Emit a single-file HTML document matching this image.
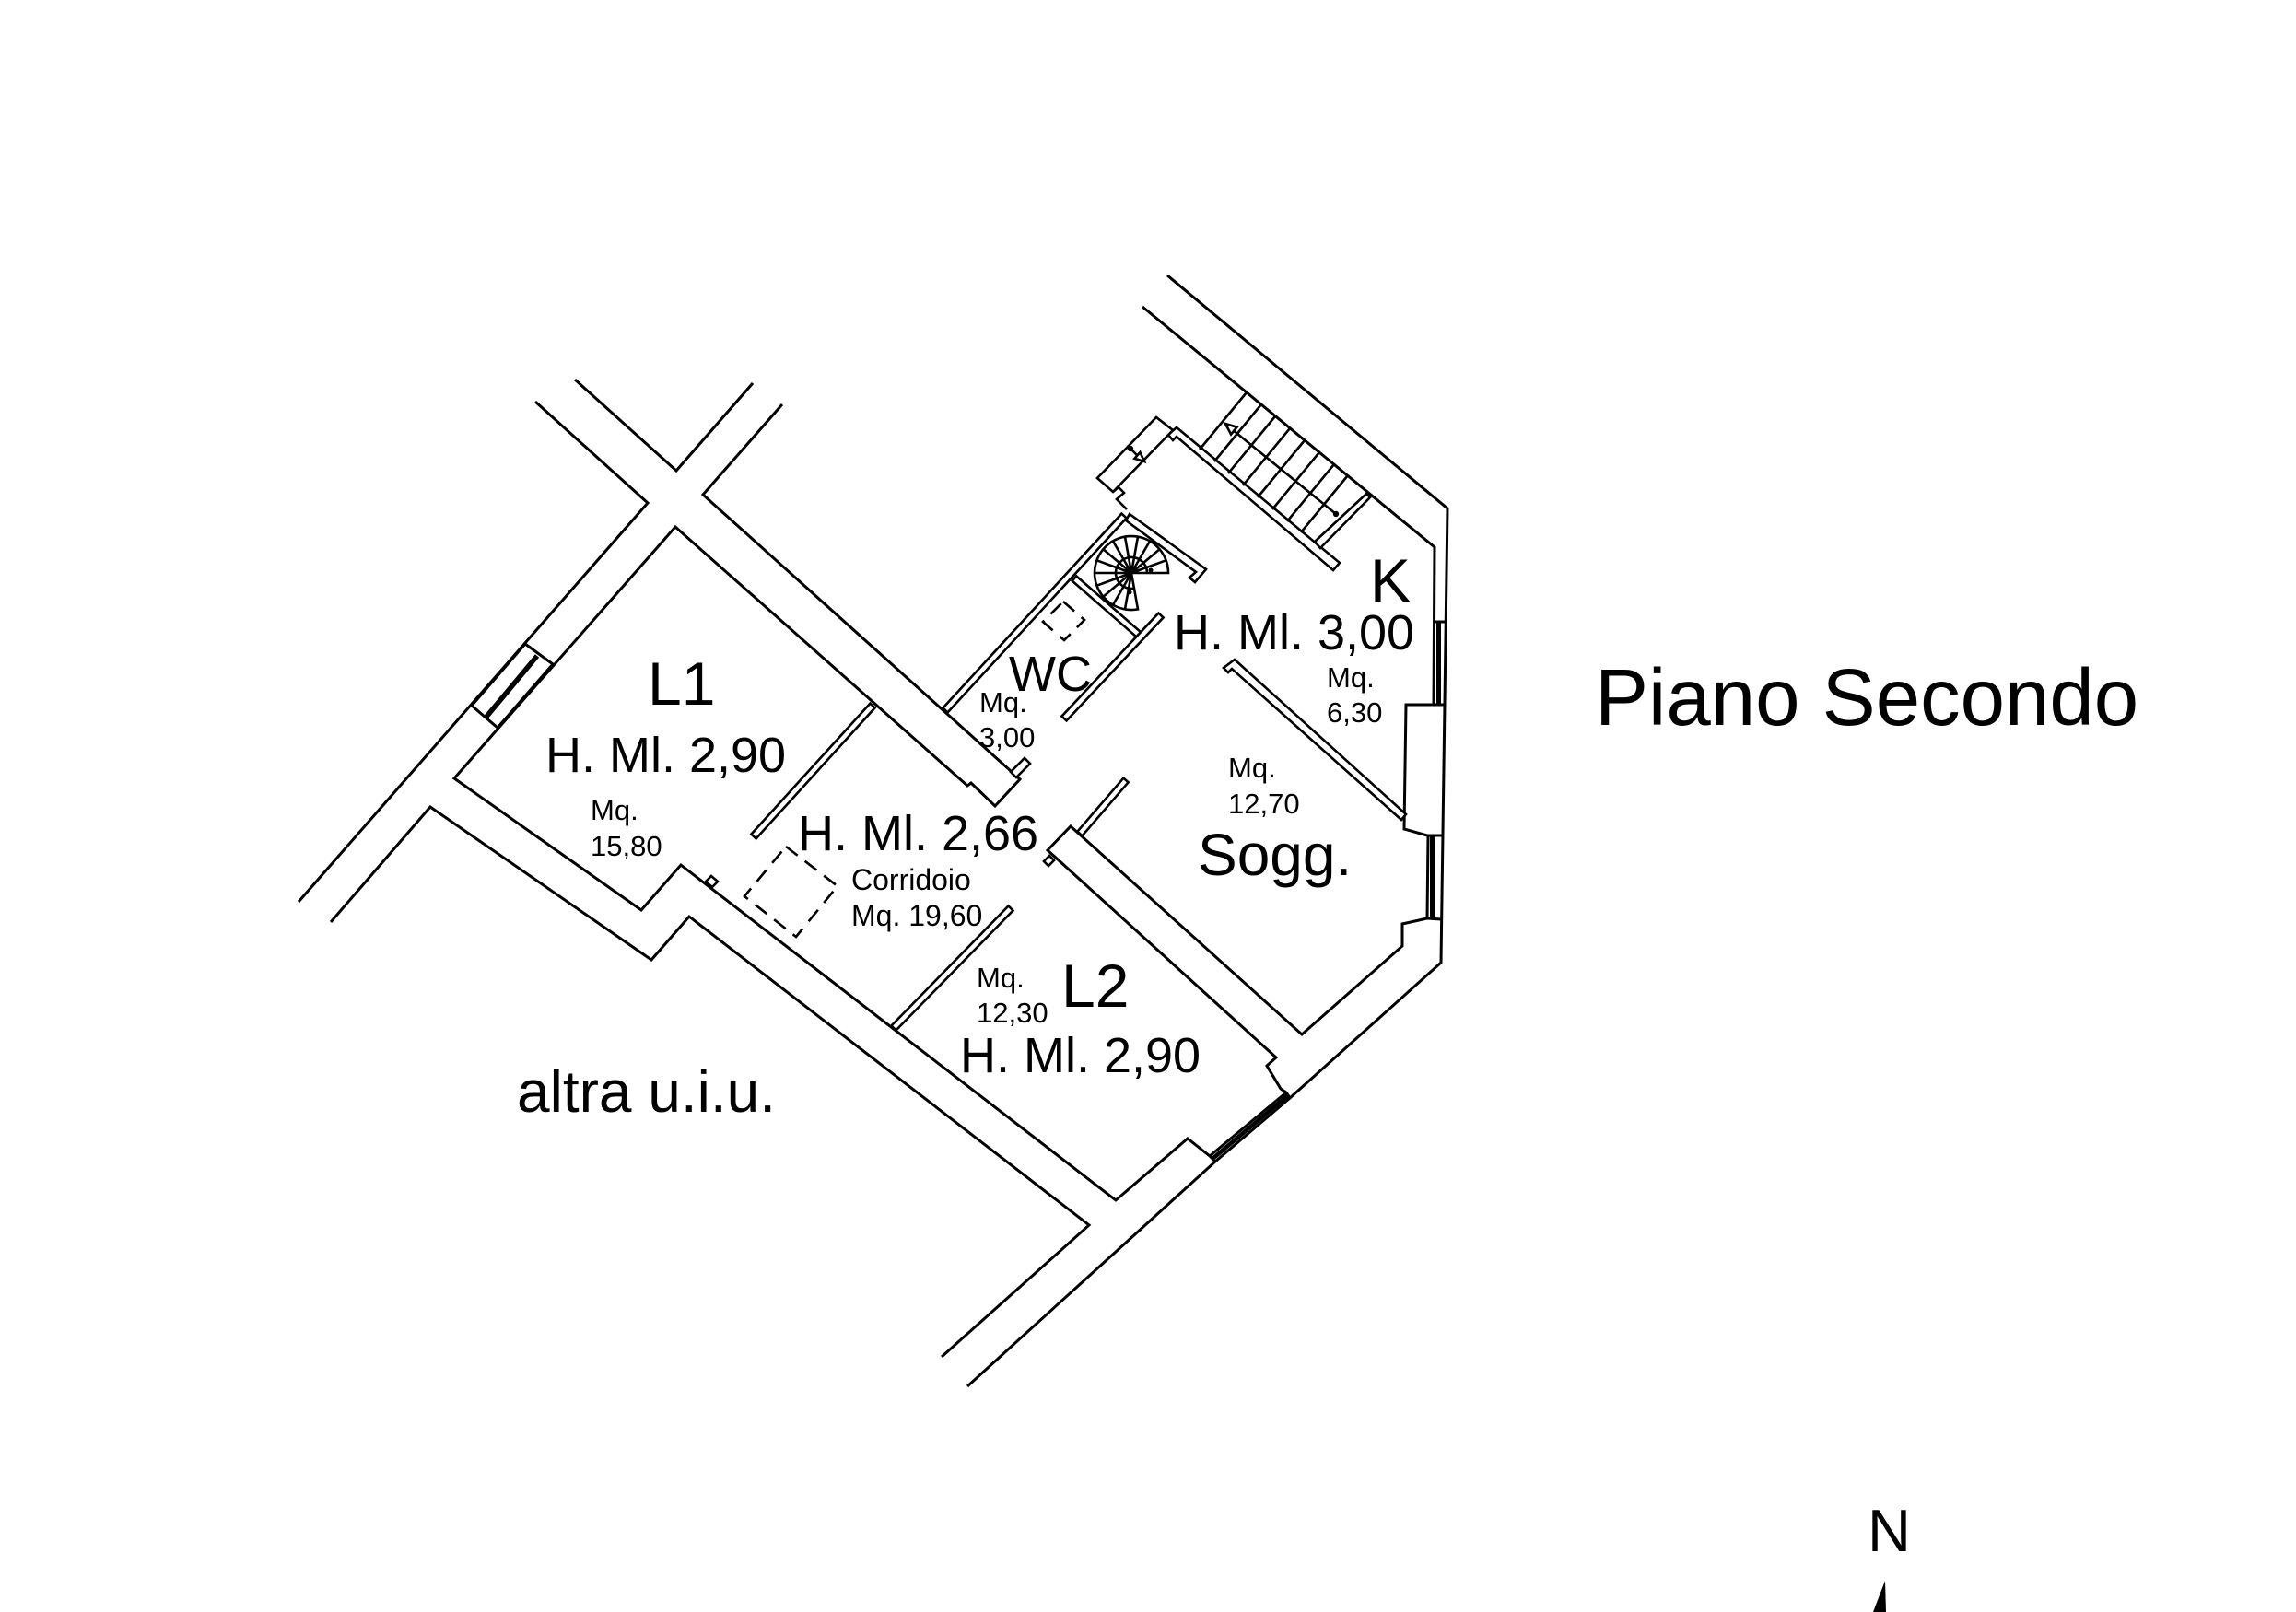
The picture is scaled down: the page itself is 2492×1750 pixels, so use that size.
<!DOCTYPE html>
<html>
<head>
<meta charset="utf-8">
<style>
  html, body { margin: 0; padding: 0; background: #ffffff; }
  svg { display: block; }
  text { font-family: "Liberation Sans", Arial, sans-serif; fill: #000; }
</style>
</head>
<body>
<svg width="2492" height="1750" viewBox="0 0 2492 1750" xmlns="http://www.w3.org/2000/svg">
  <rect x="0" y="0" width="2492" height="1750" fill="#ffffff"/>

  <g fill="none" stroke="#000" stroke-width="3" stroke-linejoin="miter" stroke-linecap="butt">
    <!-- outer left wall line -->
    <polyline points="581,436 703,546 324,979"/>
    <!-- top X -->
    <polyline points="624,412 734,511 817,416"/>
    <!-- big wall line around L1 / corridor -->
    <polyline points="849,439 763,537 1107,846 1080,875 1054,850 1050,853 733,572 493,845 696,988 739,939 1211,1303 1289,1236 1313,1255"/>
    <!-- outer lower left -->
    <polyline points="359,1001 467,876 707,1042 748,995 1182,1330 1022,1473"/>
    <!-- outer right boundary -->
    <polyline points="1050,1505 1319,1261 1400,1192 1564,1045 1571,552 1267,299"/>
    <!-- inner right top -->
    <polyline points="1240,333 1557,594 1556,765"/>
    <line x1="1557" y1="675" x2="1570" y2="675"/>
    <!-- pillar -->
    <polyline points="1568,765 1526,765 1524,900 1549,907 1566,907"/>
    <!-- lower window inner line -->
    <line x1="1550" y1="907" x2="1549" y2="998"/>
    <!-- Sogg / L2 wall and lower-right -->
    <polyline points="1564,998 1549,997 1522,1003 1522,1027 1413,1123 1162,897 1137,923 1385,1148 1375,1157 1390,1182 1396,1186 1313,1255"/>
    <!-- window end lines -->
    <line x1="1396" y1="1186" x2="1400" y2="1192"/>
    <line x1="1313" y1="1255" x2="1319" y2="1261"/>

    <!-- left window -->
    <polygon points="570,699 600,721 540,790 512,766"/>
  </g>

  <!-- window thick bands -->
  <line x1="583" y1="712" x2="528" y2="778" stroke="#000" stroke-width="5.5"/>
  <rect x="1559" y="675" width="5" height="90" fill="#000"/>
  <rect x="1552" y="907" width="5" height="91" fill="#000"/>
  <line x1="1316" y1="1258" x2="1398" y2="1189" stroke="#000" stroke-width="4.5"/>

  <!-- thin walls -->
  <g fill="#fff" stroke="#000" stroke-width="2.6" stroke-linejoin="miter">
    <!-- L1 / corridor partition -->
    <polygon points="944.4,763.6 815.4,905.6 820.6,910.4 949.6,768.4"/>
    <!-- L2 partition -->
    <polygon points="972.5,1118.5 1099.5,988.5 1094.5,983.5 967.5,1113.5"/>
    <!-- corridor / Sogg partition -->
    <polygon points="1174.6,907.3 1224.6,849.3 1219.4,844.7 1169.4,902.7"/>
    <!-- K / Sogg partition with hook -->
    <polygon points="1340,716 1526,884 1521,890 1337,726 1333,730 1328,725"/>
    <!-- WC outer wall -->
    <polygon points="1028.6,773.4 1222.6,562.4 1217.4,557.6 1023.4,768.6"/>
    <!-- spiral compartment top wall with hook -->
    <polygon points="1226,558 1309,618 1297,632 1291,627 1298,621 1222,565"/>
    <!-- WC / spiral separator -->
    <polygon points="1163.7,630.6 1233.7,691.6 1238.3,686.4 1168.3,625.4"/>
    <!-- WC right wall -->
    <polygon points="1157.6,782.4 1262.6,670.4 1257.4,665.6 1152.4,777.6"/>
    <!-- wall below stair -->
    <polygon points="1268,472 1277,464 1454,611 1447,619 1277,474 1273,478"/>
    <!-- stair end stub -->
    <polygon points="1427,588 1483,536 1487,540 1433,595"/>
    <!-- door block -->
    <polygon points="1191,519 1255,453 1273,467 1208,534"/>
    <!-- jambs -->
    <polygon points="1133,935 1139,929 1144,934 1138,940"/>
    <polygon points="1097,838 1112,823 1118,829 1103,844"/>
    <polygon points="766,957 772,951 779,957 773,963"/>
  </g>

  <!-- zigzag near door -->
  <polyline points="1208,534 1214,529 1220,535 1212,542 1223,553" fill="none" stroke="#000" stroke-width="2.6"/>

  <!-- stair treads -->
  <g stroke="#000" stroke-width="2.6" fill="none">
    <line x1="1302" y1="488" x2="1353" y2="426"/>
    <line x1="1318" y1="501" x2="1369" y2="439"/>
    <line x1="1333" y1="514" x2="1384" y2="452"/>
    <line x1="1349" y1="527" x2="1400" y2="465"/>
    <line x1="1365" y1="540" x2="1416" y2="478"/>
    <line x1="1381" y1="553" x2="1432" y2="491"/>
    <line x1="1397" y1="566" x2="1448" y2="504"/>
    <line x1="1412" y1="578" x2="1463" y2="516"/>
    <!-- stair arrow -->
    <line x1="1339" y1="467.6" x2="1450" y2="558"/>
    <polygon points="1330,460 1336.1,471.5 1342.5,463.7" fill="#fff"/>
    <!-- door arrow -->
    <line x1="1227" y1="487" x2="1234.4" y2="494.4"/>
    <polygon points="1242,501 1231.4,497.8 1237.4,491" fill="#fff"/>
  </g>
  <circle cx="1450" cy="558" r="3.2" fill="#000"/>
  <circle cx="1227" cy="487" r="3.2" fill="#000"/>

  <!-- spiral stair -->
  <g stroke="#000" stroke-width="2.6" fill="none">
    <path d="M1268,622 A40,40 0 1 0 1235,661.4 L1228,622 Z"/>
    <path d="M1245,622 A17,17 0 1 0 1231,638.7"/>
    <line x1="1228" y1="622" x2="1265.6" y2="608.3"/>
    <line x1="1228" y1="622" x2="1258.6" y2="596.3"/>
    <line x1="1228" y1="622" x2="1248" y2="587.4"/>
    <line x1="1228" y1="622" x2="1235" y2="582.6"/>
    <line x1="1228" y1="622" x2="1221" y2="582.6"/>
    <line x1="1228" y1="622" x2="1208" y2="587.4"/>
    <line x1="1228" y1="622" x2="1197.4" y2="596.3"/>
    <line x1="1228" y1="622" x2="1190.4" y2="608.3"/>
    <line x1="1228" y1="622" x2="1188" y2="622"/>
    <line x1="1228" y1="622" x2="1190.4" y2="635.7"/>
    <line x1="1228" y1="622" x2="1197.4" y2="647.7"/>
    <line x1="1228" y1="622" x2="1208" y2="656.6"/>
    <line x1="1228" y1="622" x2="1221" y2="661.4"/>
  </g>
  <circle cx="1249" cy="619" r="2.5" fill="#000"/>
  <circle cx="1226" cy="643" r="2.5" fill="#000"/>

  <!-- dashed squares -->
  <g fill="none" stroke="#000" stroke-width="2.6" stroke-dasharray="16 10">
    <polygon points="1154,653 1177,673 1155,695 1132,675"/>
    <polygon points="853,919 909,962 864,1017 808,973"/>
  </g>

  <!-- north arrow -->
  <polygon points="2046,1716 2047,1750 2033,1750" fill="#000"/>

  <!-- labels -->
  <text x="703" y="765" font-size="66">L1</text>
  <text x="592" y="838" font-size="54">H. Ml. 2,90</text>
  <text x="641" y="890" font-size="31">Mq.</text>
  <text x="641" y="929" font-size="31">15,80</text>

  <text x="866" y="923" font-size="54">H. Ml. 2,66</text>
  <text x="924" y="966" font-size="32">Corridoio</text>
  <text x="924" y="1005" font-size="32">Mq. 19,60</text>

  <text x="1095" y="750" font-size="54">WC</text>
  <text x="1063" y="773" font-size="31">Mq.</text>
  <text x="1063" y="811" font-size="31">3,00</text>

  <text x="1487" y="653" font-size="66">K</text>
  <text x="1274" y="705" font-size="54">H. Ml. 3,00</text>
  <text x="1440" y="746" font-size="31">Mq.</text>
  <text x="1440" y="784" font-size="31">6,30</text>

  <text x="1333" y="844" font-size="31">Mq.</text>
  <text x="1333" y="883" font-size="31">12,70</text>
  <text x="1300" y="950" font-size="64">Sogg.</text>

  <text x="1060" y="1072" font-size="31">Mq.</text>
  <text x="1060" y="1110" font-size="31">12,30</text>
  <text x="1152" y="1093" font-size="66">L2</text>
  <text x="1042" y="1164" font-size="54">H. Ml. 2,90</text>

  <text x="561" y="1207" font-size="64">altra u.i.u.</text>

  <text x="1731" y="787" font-size="87">Piano Secondo</text>

  <text x="2027" y="1684" font-size="65">N</text>
</svg>
</body>
</html>
